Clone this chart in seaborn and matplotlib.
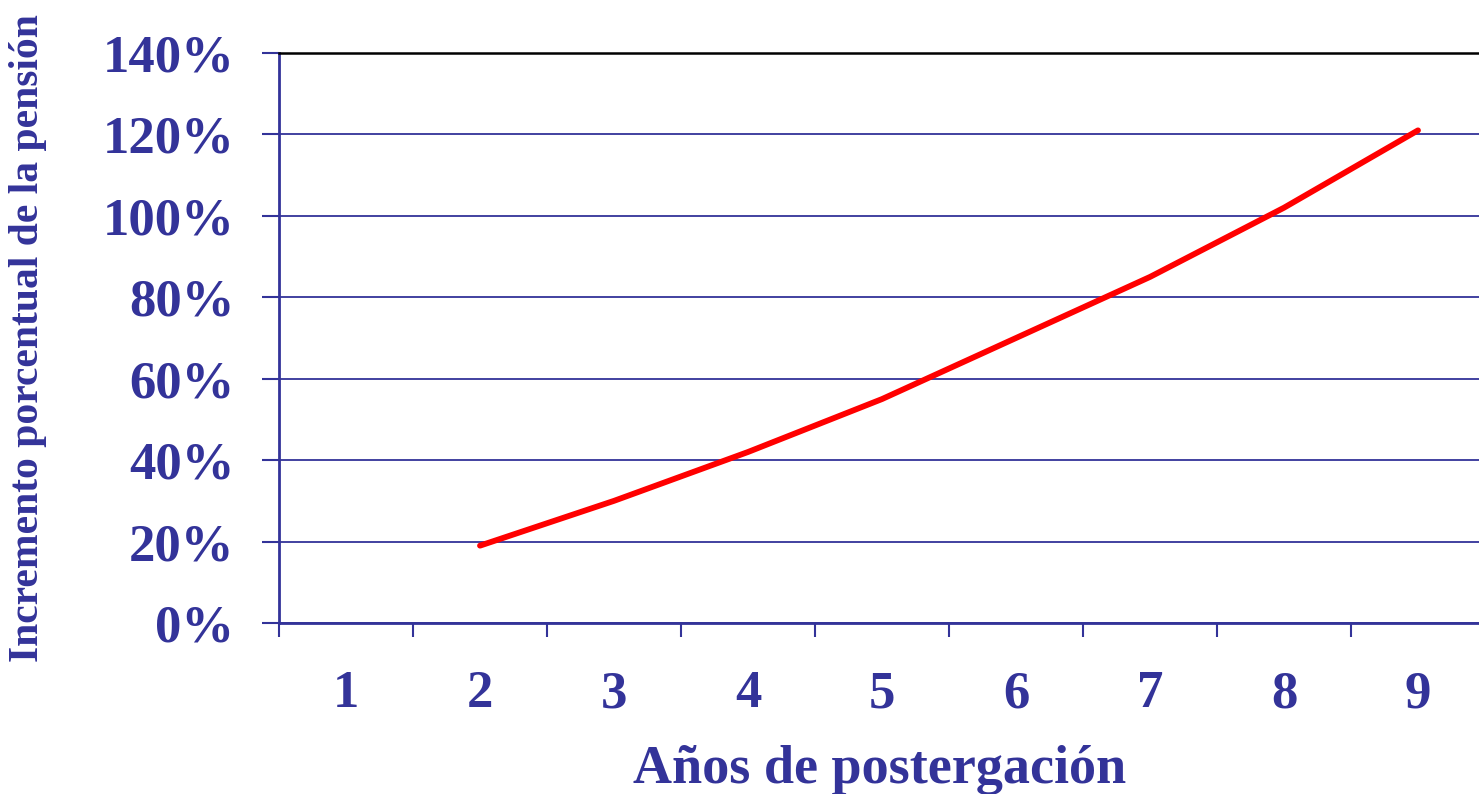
import numpy as np
import pandas as pd
import matplotlib
matplotlib.use("Agg")
import matplotlib.pyplot as plt
import seaborn as sns

# datos
anios = [2, 3, 4, 5, 6, 7, 8, 9]
incremento = [19, 30, 42, 55, 70, 85, 102, 121]
categorias = [1, 2, 3, 4, 5, 6, 7, 8, 9]
yticks = [0, 20, 40, 60, 80, 100, 120, 140]

azul = "#333399"

df = pd.DataFrame({"anio": anios, "inc": incremento})

sns.set_style("white")
plt.rcParams["font.family"] = ["Liberation Serif", "DejaVu Serif"]
plt.rcParams["font.weight"] = "bold"

fig = plt.figure(figsize=(14.79, 7.94), dpi=100)
ax = fig.add_axes([279 / 1479, 1 - 623 / 794, (1485 - 279) / 1479, (623 - 53) / 794])

ax.set_xlim(0.5, len(categorias) + 0.5)
ax.set_ylim(0, 140)

# lineas de la grilla
ax.set_yticks(yticks)
ax.yaxis.grid(True, color=azul, linewidth=1.3)
ax.set_axisbelow(True)

sns.lineplot(x="anio", y="inc", data=df, ax=ax, color="#ff0000",
             linewidth=4.2, solid_capstyle="round")

ax.set_yticklabels([f"{v}%" for v in yticks], fontsize=38, fontweight="bold", color=azul)
ax.tick_params(axis="y", left=True, length=12, width=1.5, color=azul, pad=20)

# marcas entre categorias, etiquetas en el centro
ax.set_xticks([c - 0.5 for c in categorias])
ax.set_xticklabels([])
ax.set_xticks(categorias, minor=True)
ax.set_xticklabels([str(c) for c in categorias], minor=True,
                   fontsize=38, fontweight="bold", color=azul)
ax.tick_params(axis="x", which="major", bottom=True, length=10, width=1.5,
               color=azul, direction="out")
ax.tick_params(axis="x", which="minor", bottom=True, length=0, pad=34)

ax.set_xlabel("")
ax.set_ylabel("")

for s in ["left", "bottom"]:
    ax.spines[s].set_color(azul)
    ax.spines[s].set_linewidth(2)
ax.spines["top"].set_color("black")
ax.spines["top"].set_linewidth(1.8)
ax.spines["right"].set_visible(False)

fig.text(880 / 1479, 1 - 770 / 794, "Años de postergación", ha="center", va="center",
         fontsize=39, fontweight="bold", color=azul)
fig.text(28 / 1479, 1 - 662 / 794, "Incremento porcentual de la pensión", rotation=90,
         ha="center", va="bottom", fontsize=30, fontweight="bold", color=azul)

fig.savefig("out.png", dpi=100)
